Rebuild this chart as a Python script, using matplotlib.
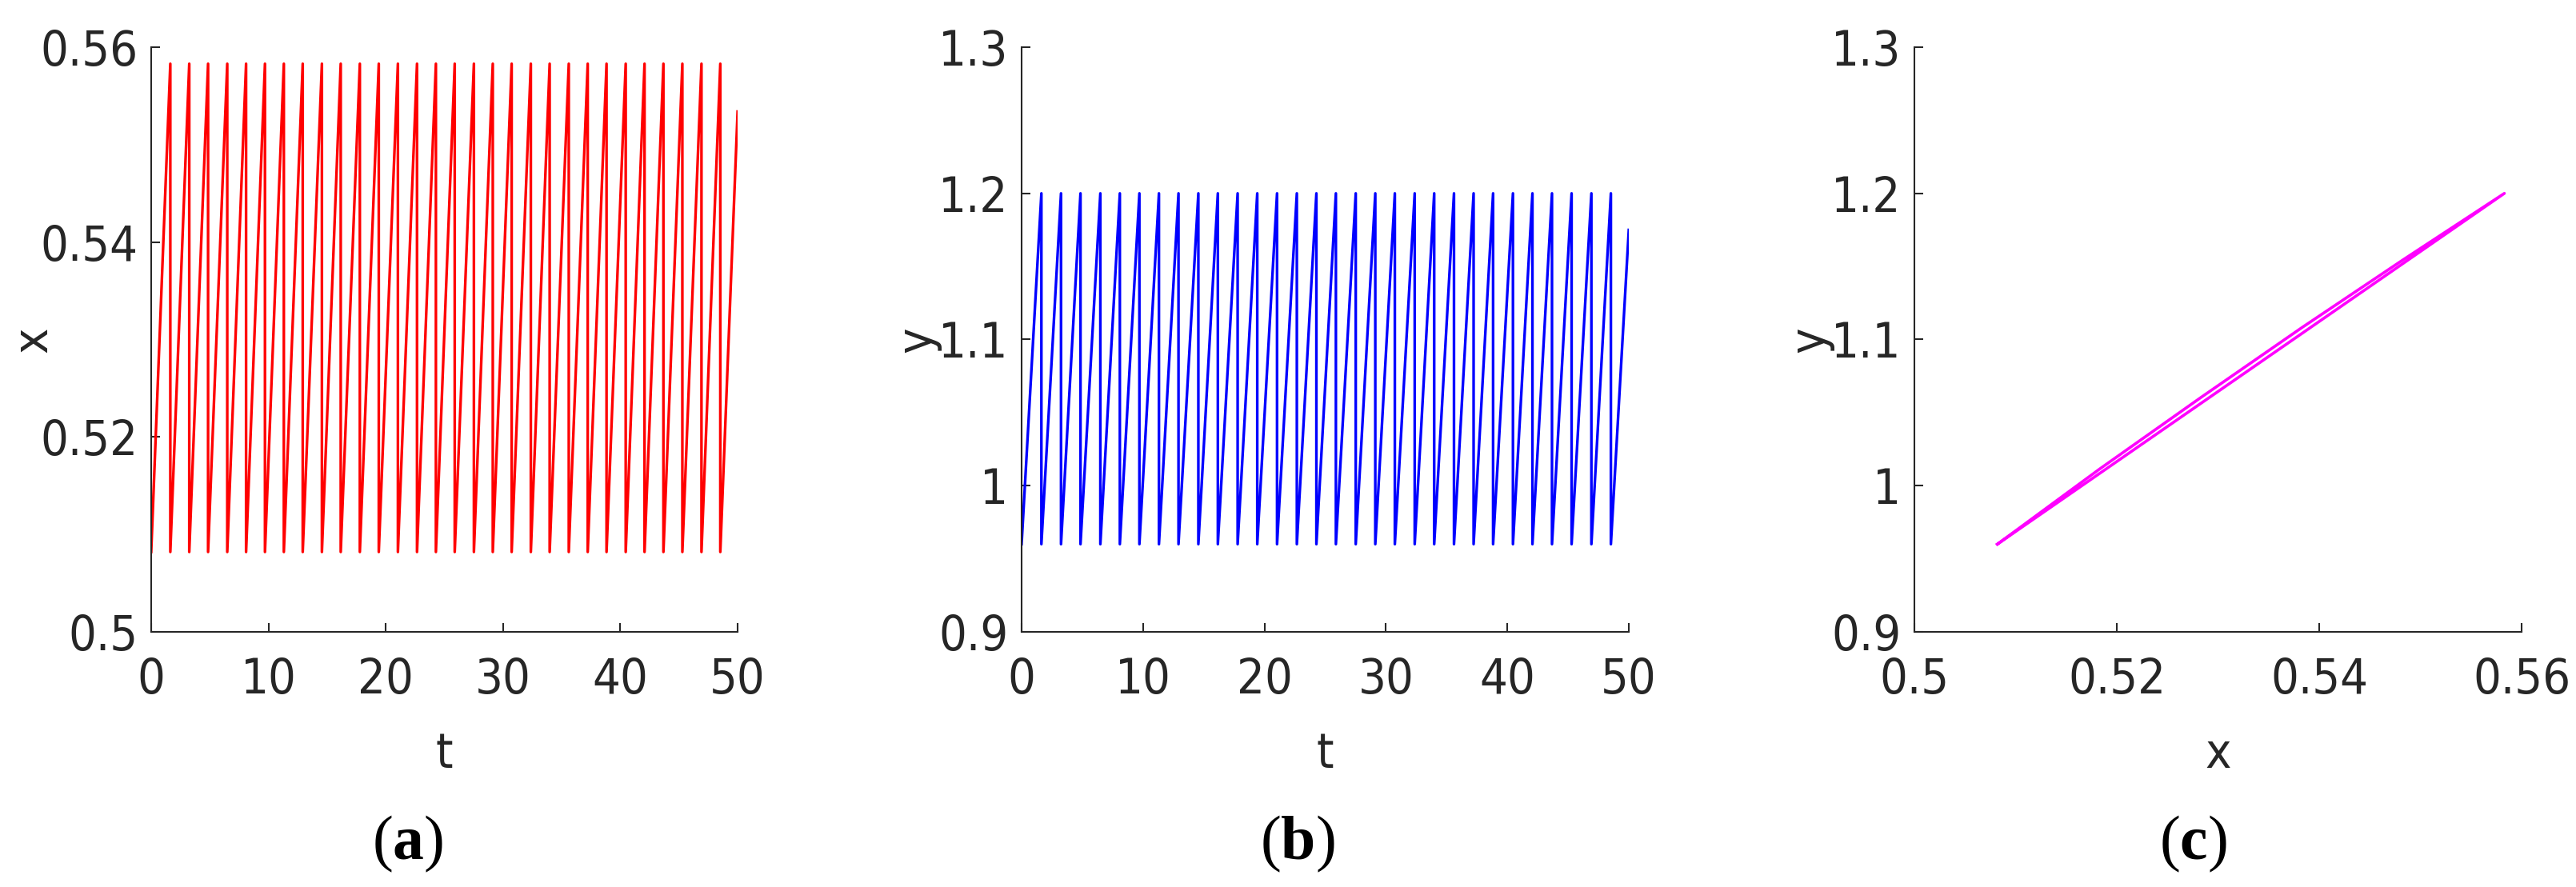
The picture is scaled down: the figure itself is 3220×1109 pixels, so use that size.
import matplotlib
matplotlib.use("Agg")
import matplotlib.pyplot as plt
from matplotlib import font_manager
from matplotlib.font_manager import FontProperties

peak_t = [1.63, 3.245, 4.85, 6.485, 8.09, 9.70, 11.31, 12.92, 14.555, 16.16,
          17.79, 19.405, 21.035, 22.665, 24.275, 25.88, 27.515, 29.125, 30.735, 32.37,
          33.975, 35.605, 37.22, 38.825, 40.46, 42.065, 43.675, 45.29, 46.92, 48.525]
x_low, x_high, x_end = 0.5082, 0.5583, 0.5534
y_low, y_high, y_end = 0.96, 1.2, 1.175
t_start, t_end = 0, 50

# phase curve (panel c): trajectory then jump back
cycle_x = [0.5082, 0.5183, 0.5283, 0.5383, 0.5483, 0.5583, 0.5082]
cycle_y = [0.96, 1.0114, 1.0603, 1.1082, 1.1546, 1.2, 0.96]

t_ticks = [0, 10, 20, 30, 40, 50]
x_ticks = [0.5, 0.52, 0.54, 0.56]
x_labels = ["0.5", "0.52", "0.54", "0.56"]
y_ticks = [0.9, 1.0, 1.1, 1.2, 1.3]
y_labels = ["0.9", "1", "1.1", "1.2", "1.3"]

# build the sawtooth series from the read values
t_s = [t_start]
xs = [x_low]
ys = [y_low]
for p in peak_t:
    t_s += [p, p]
    xs += [x_high, x_low]
    ys += [y_high, y_low]
t_s.append(t_end)
xs.append(x_end)
ys.append(y_end)

# narrow sans if one is installed (the reference glyphs are condensed)
fs = 44
narrow = None
for f in font_manager.fontManager.ttflist:
    n = f.name
    if "Mono" in n or "Serif" in n or f.style != "normal":
        continue
    if f.weight not in (400, "normal", "regular", "book"):
        continue
    if "Narrow" in n or "Condensed" in n or f.stretch in ("condensed", "semi-condensed"):
        if narrow is None or "Liberation" in n:
            narrow = f.fname
if narrow:
    fp = FontProperties(fname=narrow, size=fs)
else:
    fp = FontProperties(family="Liberation Sans", size=fs - 4)

W, H = 3220, 1109
fig = plt.figure(figsize=(W / 100, H / 100), dpi=100)

ink = "#262626"


def box(l, r, top=59, bot=790):
    return [l / W, 1 - bot / H, (r - l) / W, (bot - top) / H]


def style(ax, xlab, ylab, ylx):
    for s in ["top", "right"]:
        ax.spines[s].set_visible(False)
    for s in ["left", "bottom"]:
        ax.spines[s].set_color(ink)
        ax.spines[s].set_linewidth(1.5)
    ax.tick_params(direction="in", length=8, width=1.5, colors=ink)
    ax.tick_params(axis="x", pad=22)
    ax.tick_params(axis="y", pad=12)
    for lab in ax.get_xticklabels() + ax.get_yticklabels():
        lab.set_fontproperties(fp)
    ax.set_xlabel(xlab, fontproperties=fp, color=ink, va="center")
    ax.set_ylabel(ylab, fontproperties=fp, color=ink, va="center")
    ax.xaxis.set_label_coords(0.5, -0.21)
    ax.yaxis.set_label_coords(ylx, 0.5)


axa = fig.add_axes(box(189, 922))
axa.plot(t_s, xs, color="red", lw=2.4)
axa.set_xlim(0, 50)
axa.set_ylim(0.5, 0.56)
axa.set_xticks(t_ticks)
axa.set_yticks(x_ticks)
axa.set_yticklabels(x_labels)
style(axa, "t", "x", -0.2)

axb = fig.add_axes(box(1277, 2036))
axb.plot(t_s, ys, color="blue", lw=2.4)
axb.set_xlim(0, 50)
axb.set_ylim(0.9, 1.3)
axb.set_xticks(t_ticks)
axb.set_yticks(y_ticks)
axb.set_yticklabels(y_labels)
style(axb, "t", "y", -0.172)

axc = fig.add_axes(box(2393, 3152))
axc.plot(cycle_x, cycle_y, color="magenta", lw=2.6)
axc.set_xlim(0.5, 0.56)
axc.set_ylim(0.9, 1.3)
axc.set_xticks(x_ticks)
axc.set_xticklabels(x_labels)
axc.set_yticks(y_ticks)
axc.set_yticklabels(y_labels)
style(axc, "x", "y", -0.172)

plt.rcParams["mathtext.fontset"] = "custom"
plt.rcParams["mathtext.rm"] = "Liberation Serif"
plt.rcParams["mathtext.bf"] = "Liberation Serif:bold"
for px, letter in [(510, "a"), (1622, "b"), (2741, "c")]:
    fig.text(px / W, 1 - 1055 / H, "(" + r"$\mathbf{" + letter + "}$" + ")",
             fontsize=56, family="Liberation Serif", ha="center", va="center",
             color="black")

fig.savefig("out.png", dpi=100)
